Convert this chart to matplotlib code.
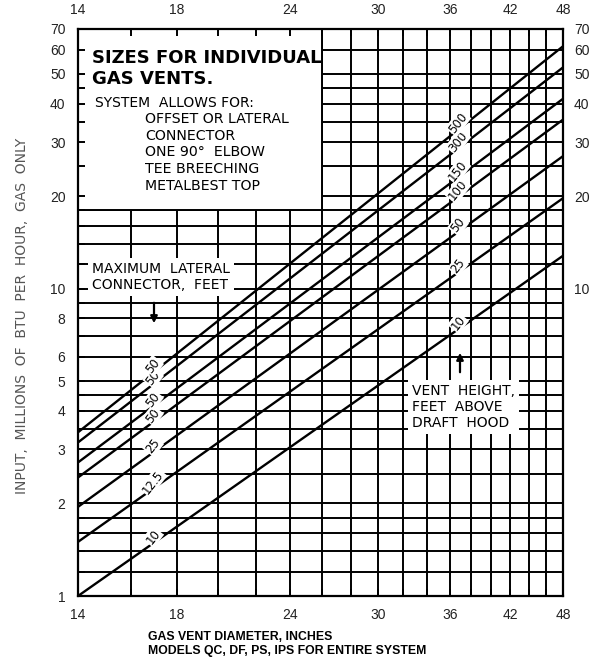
import matplotlib
matplotlib.use("Agg")
import numpy as np
import matplotlib.pyplot as plt
from matplotlib.ticker import FixedLocator, NullFormatter, FuncFormatter, NullLocator
from matplotlib.patches import Rectangle

# ---------------- data ----------------
x_ticks = [14, 18, 24, 30, 36, 42, 48]
x_grid = [14, 16, 18, 20, 22, 24, 26, 28, 30, 32, 34, 36, 38, 40, 42, 44, 46, 48]
y_ticks_left = [1, 2, 3, 4, 5, 6, 8, 10, 20, 30, 40, 50, 60, 70]
y_ticks_right = [10, 20, 30, 40, 50, 60, 70]
y_grid = [1, 1.2, 1.4, 1.6, 1.8, 2, 2.5, 3, 3.5, 4, 4.5, 5, 6, 7, 8, 9, 10,
          12, 14, 16, 18, 20, 25, 30, 35, 40, 45, 50, 60, 70]
diam_start = 14
diam_end = 48
btu_start = [1.0, 1.5, 1.95, 2.43, 2.72, 3.16, 3.41]
btu_end = [12.8, 19.7, 27.0, 35.5, 41.5, 52.5, 61.5]
vent_height = ["10", "25", "50", "100", "150", "300", "500"]
lateral_feet = ["10", "12.5", "25", "50", "50", "50", "50"]

W, H = 595, 662
SANS = ["Liberation Sans", "DejaVu Sans"]


def fx(px):
    return px / W


def fy(py):
    return 1 - py / H


fig = plt.figure(figsize=(W / 100, H / 100), dpi=100)
ax = fig.add_axes([fx(78), fy(596), (563 - 78) / W, (596 - 29) / H])
ax.set_xscale("log")
ax.set_yscale("log")
ax.set_xlim(x_grid[0], x_grid[-1])
ax.set_ylim(y_grid[0], y_grid[-1])

# grid lines
for xv in x_grid[1:-1]:
    ax.axvline(xv, color="black", lw=1.4, zorder=1)
for yv in y_grid[1:-1]:
    ax.axhline(yv, color="black", lw=1.4, zorder=1)

# blank title panel (upper left)
ax.add_patch(Rectangle((14, 18), 26 - 14, 70 - 18, facecolor="white",
                       edgecolor="black", lw=1.4, zorder=1.5))

# ticks
fmt = FuncFormatter(lambda v, p: f"{v:g}")
ax.xaxis.set_major_locator(FixedLocator(x_ticks))
ax.xaxis.set_minor_locator(FixedLocator(x_grid))
ax.xaxis.set_major_formatter(fmt)
ax.xaxis.set_minor_formatter(NullFormatter())
ax.yaxis.set_major_locator(FixedLocator(y_ticks_left))
ax.yaxis.set_minor_locator(FixedLocator(y_grid))
ax.yaxis.set_major_formatter(fmt)
ax.yaxis.set_minor_formatter(NullFormatter())
ax.tick_params(which="both", direction="in", top=True, right=True,
               length=5, width=1.4, labeltop=True, labelbottom=True)
ax.tick_params(axis="x", which="major", pad=8.5, labelsize=10)
ax.tick_params(axis="y", which="major", pad=9, labelsize=10)
for lab in ax.get_xticklabels() + ax.get_yticklabels():
    lab.set_fontfamily(SANS)
    lab.set_color("#222222")
for sp in ax.spines.values():
    sp.set_linewidth(1.6)
    sp.set_zorder(5)

ax2 = ax.twinx()
ax2.set_yscale("log")
ax2.set_ylim(y_grid[0], y_grid[-1])
ax2.yaxis.set_major_locator(FixedLocator(y_ticks_right))
ax2.yaxis.set_minor_locator(NullLocator())
ax2.yaxis.set_major_formatter(fmt)
ax2.tick_params(axis="y", length=0, pad=8, labelsize=10)
for lab in ax2.get_yticklabels():
    lab.set_fontfamily(SANS)
    lab.set_color("#222222")
for sp in ax2.spines.values():
    sp.set_visible(False)

# diagonal capacity lines
span = np.log(diam_end / diam_start)


def line_val(s, e, d):
    k = np.log(e / s) / span
    return s * (d / diam_start) ** k


for s, e in zip(btu_start, btu_end):
    ax.plot([diam_start, diam_end], [s, e], color="black", lw=1.7, zorder=3,
            solid_capstyle="butt")

for labels, d in ((vent_height, 36.9), (lateral_feet, 17.0)):
    for s, e, lab in zip(btu_start, btu_end, labels):
        ax.annotate(lab, (d, line_val(s, e, d)), xytext=(-1, 4),
                    textcoords="offset points", ha="center", va="center",
                    rotation=52, fontsize=8.5, family="DejaVu Sans", zorder=4,
                    bbox=dict(boxstyle="square,pad=0.08", fc="white", ec="none"))

# title panel text
ax.text(fx(92), fy(58), "SIZES FOR INDIVIDUAL", transform=fig.transFigure,
        fontsize=13, fontweight="bold", family="DejaVu Sans", va="center",
        ha="left", zorder=6)
ax.text(fx(92), fy(79), "GAS VENTS.", transform=fig.transFigure,
        fontsize=13, fontweight="bold", family="DejaVu Sans", va="center",
        ha="left", zorder=6)
ax.text(fx(95), fy(103), "SYSTEM  ALLOWS FOR:", transform=fig.transFigure,
        fontsize=10, family="DejaVu Sans", va="center", ha="left", zorder=6)
for i, s in enumerate(["OFFSET OR LATERAL", "CONNECTOR", "ONE 90\u00b0  ELBOW",
                       "TEE BREECHING", "METALBEST TOP"]):
    ax.text(fx(145), fy(119 + 16.7 * i), s, transform=fig.transFigure,
            fontsize=10.2, family="DejaVu Sans", va="center", ha="left",
            zorder=6)

# annotations
ax.text(fx(92), fy(277), "MAXIMUM  LATERAL\nCONNECTOR,  FEET",
        transform=fig.transFigure, fontsize=10, family="DejaVu Sans",
        va="center", ha="left", linespacing=1.2, zorder=2,
        bbox=dict(boxstyle="square,pad=0.3", fc="white", ec="none"))
ax.annotate("", xy=(fx(154), fy(326)), xytext=(fx(154), fy(300)),
            xycoords="figure fraction", textcoords="figure fraction",
            arrowprops=dict(arrowstyle="-|>", color="black", lw=1.6,
                            mutation_scale=10), zorder=4)

ax.text(fx(412), fy(407), "VENT  HEIGHT,\nFEET  ABOVE\nDRAFT  HOOD",
        transform=fig.transFigure, fontsize=10, family="DejaVu Sans",
        va="center", ha="left", linespacing=1.2, zorder=2,
        bbox=dict(boxstyle="square,pad=0.3", fc="white", ec="none"))
ax.annotate("", xy=(fx(460), fy(350)), xytext=(fx(460), fy(375)),
            xycoords="figure fraction", textcoords="figure fraction",
            arrowprops=dict(arrowstyle="-|>", color="black", lw=1.6,
                            mutation_scale=10), zorder=4)

# axis titles
fig.text(fx(22), fy(316), "INPUT,  MILLIONS  OF  BTU  PER  HOUR,  GAS  ONLY",
         rotation=90, ha="center", va="center", fontsize=10, color="#555555",
         family="DejaVu Sans")
fig.text(fx(148), fy(637), "GAS VENT DIAMETER, INCHES", ha="left",
         va="center", fontsize=8.8, fontweight="bold", family=SANS)
fig.text(fx(148), fy(651), "MODELS QC, DF, PS, IPS FOR ENTIRE SYSTEM",
         ha="left", va="center", fontsize=8.8, fontweight="bold", family=SANS)

fig.savefig("out.png", dpi=100)
